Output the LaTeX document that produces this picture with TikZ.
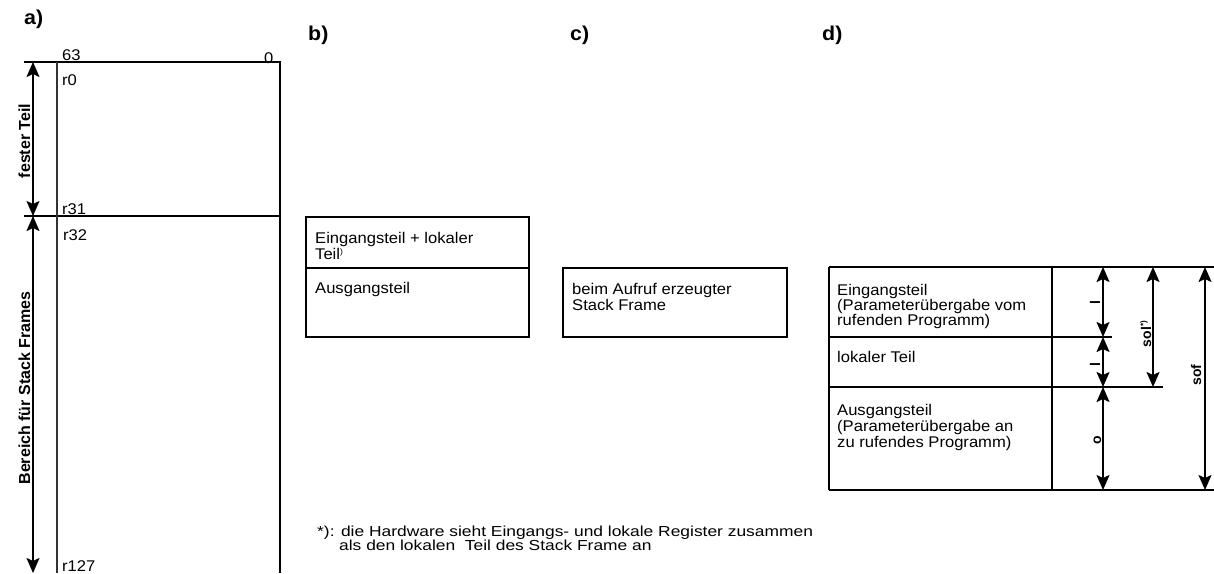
\documentclass[tikz,border=0pt]{standalone}
\usepackage{fontspec}
\setmainfont{Liberation Sans}[FakeStretch=1.07]
\newfontfamily\sidefont{Liberation Sans}
\newfontfamily\notefont{Liberation Sans}[FakeStretch=1.2]
\usetikzlibrary{arrows.meta}
\begin{document}
\begin{tikzpicture}[x=1pt,y=-1pt,
  txt/.style={anchor=base west, inner sep=0pt, font=\fontsize{15.5}{16}\selectfont},
  note/.style={anchor=base west, inner sep=0pt, font=\notefont\fontsize{14.5}{14}\selectfont},
  part/.style={anchor=base west, inner sep=0pt, font=\fontsize{20}{22}\selectfont\bfseries},
  sidelabel/.style={anchor=base, inner sep=0pt, rotate=90, font=\sidefont\fontsize{16}{18}\selectfont\bfseries},
  dimlabel/.style={anchor=base, inner sep=0pt, rotate=90, font=\sidefont\fontsize{14}{16}\selectfont\bfseries},
  frame/.style={line width=1.5pt},
  thinframe/.style={line width=1.1pt, black!80},
  dimarrow/.style={line width=1.8pt,
    {Stealth[length=15pt,width=13pt,inset=3pt]}-{Stealth[length=15pt,width=13pt,inset=3pt]}},
]
\useasboundingbox (0,0) rectangle (1214,573);

% ---------- a) register file ----------
\node[part] (la) at (24,24) {a)};
\coordinate (aTL) at (24,62);
\coordinate (aTR) at (280,62);
\coordinate (aML) at (24,216);
\coordinate (aMR) at (280,216);
\coordinate (aInTop) at (57,62);
\coordinate (aInBot) at (57,573);
\coordinate (aRBot) at (280,573);
\draw[frame] (aTL) -- (aTR) -- (aRBot);
\draw[frame] (aML) -- (aMR);
\draw[thinframe] (aInTop) -- (aInBot);

\coordinate (fixTop) at (33,62);
\coordinate (fixBot) at (33,216);
\coordinate (stkBot) at (33,573);
\draw[dimarrow] (fixTop) -- (fixBot);
\draw[dimarrow] (fixBot) -- (stkBot);
\node[sidelabel] (fixed) at (30,141) {fester Teil};
\node[sidelabel] (frames) at (30,388) {Bereich für Stack Frames};

\node[txt] (b63) at (62,60) {63};
\node[txt] (b0) at (264,63) {0};
\node[txt] (r0) at (62,85) {r0};
\node[txt] (r31) at (62,214) {r31};
\node[txt] (r32) at (63,240) {r32};
\node[txt] (r127) at (62,571) {r127};

% ---------- b) ----------
\node[part] (lb) at (308,40) {b)};
\draw[frame] (306,217) rectangle (529,337);
\draw[frame] (306,268) -- (529,268);
\node[txt] (b1) at (315,243) {Eingangsteil + lokaler};
\node[txt] (b2) at (315,259) {Teil\raisebox{5pt}{\fontsize{8}{8}\selectfont )}};
\node[txt] (b3) at (315,293) {Ausgangsteil};

% ---------- c) ----------
\node[part] (lc) at (570,40) {c)};
\draw[frame] (563,268) rectangle (787,337);
\node[txt] (c1) at (572,294) {beim Aufruf erzeugter};
\node[txt] (c2) at (572,310) {Stack Frame};

% ---------- d) ----------
\node[part] (ld) at (822,40) {d)};
\coordinate (dTL) at (829,267);
\coordinate (dTC) at (1052,267);
\coordinate (dTR) at (1214,267);
\coordinate (dBL) at (829,490);
\coordinate (dBC) at (1052,490);
\coordinate (dBR) at (1214,490);
\draw[frame] (dTL) -- (dTR);
\draw[frame] (dBL) -- (dBR);
\draw[frame] (dTL) -- (dBL);
\draw[frame] (dTC) -- (dBC);
\coordinate (s1L) at (829,337);
\coordinate (s1R) at (1112,337);
\coordinate (s2L) at (829,387);
\coordinate (s2R) at (1163,387);
\draw[frame] (s1L) -- (s1R);
\draw[frame] (s2L) -- (s2R);

\node[txt] (d1) at (837,295) {Eingangsteil};
\node[txt] (d2) at (837,310) {(Parameterübergabe vom};
\node[txt] (d3) at (837,325) {rufenden Programm)};
\node[txt] (d4) at (837,362) {lokaler Teil};
\node[txt] (d5) at (837,415) {Ausgangsteil};
\node[txt] (d6) at (837,431) {(Parameterübergabe an};
\node[txt] (d7) at (837,447) {zu rufendes Programm)};

\coordinate (lA) at (1103,267);
\coordinate (lB) at (1103,337);
\coordinate (lC) at (1103,387);
\coordinate (lD) at (1103,490);
\draw[dimarrow] (lA) -- (lB);
\draw[dimarrow] (lB) -- (lC);
\draw[dimarrow] (lC) -- (lD);
\coordinate (solA) at (1153,267);
\coordinate (solB) at (1153,387);
\draw[dimarrow] (solA) -- (solB);
\coordinate (sofA) at (1205,267);
\coordinate (sofB) at (1205,490);
\draw[dimarrow] (sofA) -- (sofB);

\node[dimlabel] (il) at (1100,303) {l};
\node[dimlabel] (ll) at (1100,365) {l};
\node[dimlabel] (ol) at (1101,440) {o};
\node[dimlabel] (soll) at (1151,334) {sol\raisebox{5pt}{\fontsize{8}{8}\selectfont *)}};
\node[dimlabel] (sofl) at (1201,375) {sof};

% ---------- footnote ----------
\node[note] (f1) at (317,536) {*): die Hardware sieht Eingangs- und lokale Register zusammen};
\node[note] (f2) at (339,550) {als den lokalen\ \ Teil des Stack Frame an};
\end{tikzpicture}
\end{document}
